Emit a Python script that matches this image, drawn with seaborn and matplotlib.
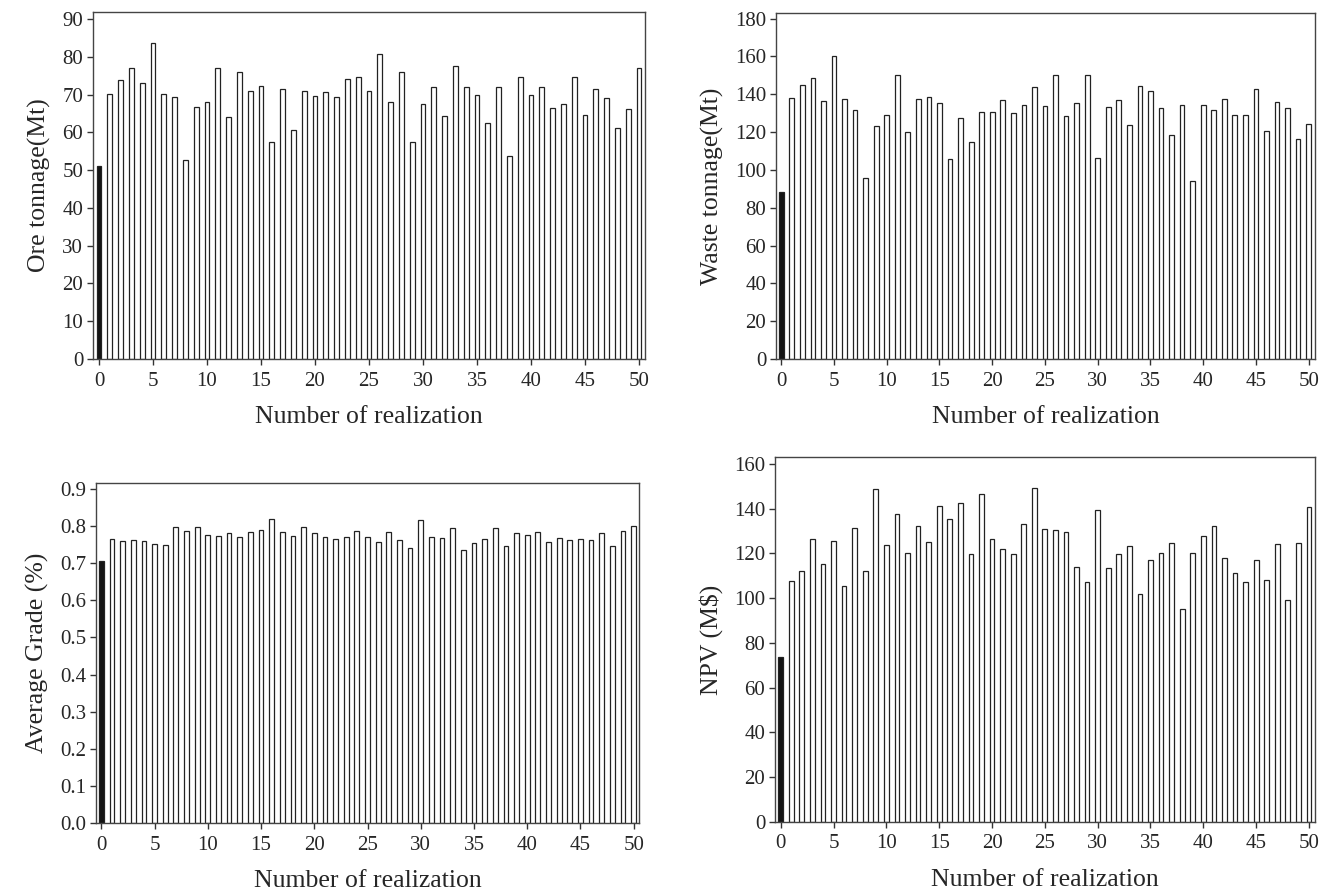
import numpy as np
import pandas as pd
import seaborn as sns
import matplotlib.pyplot as plt

# realization 0 = base (estimated) model, 1..50 = simulated realizations
realization = list(range(51))

ore_tonnage = [51.2, 70.3, 73.9, 77.2, 73.0, 83.8, 70.3, 69.4, 52.6, 66.7,
               68.0, 77.2, 64.0, 76.0, 71.1, 72.4, 57.6, 71.5, 60.7, 71.1,
               69.7, 70.6, 69.4, 74.2, 74.8, 70.9, 80.8, 68.0, 76.0, 57.6,
               67.5, 72.1, 64.3, 77.5, 72.1, 70.0, 62.4, 72.1, 53.8, 74.8,
               70.0, 72.1, 66.4, 67.5, 74.8, 64.6, 71.5, 69.1, 61.3, 66.1,
               77.2]

waste_tonnage = [88.4, 138.2, 144.7, 148.4, 136.4, 160.2, 137.5, 131.6, 95.5, 123.2,
                 129.2, 150.2, 120.0, 137.5, 138.7, 135.2, 105.7, 127.4, 114.7, 130.9,
                 130.9, 136.9, 130.2, 134.5, 143.6, 133.9, 150.2, 128.5, 135.2, 150.2,
                 106.4, 133.4, 136.9, 123.7, 144.2, 141.7, 132.7, 118.4, 134.5, 94.4,
                 134.5, 131.6, 137.5, 129.2, 129.2, 142.9, 120.7, 135.7, 132.7, 116.6,
                 124.4]

avg_grade = [0.706, 0.765, 0.759, 0.762, 0.759, 0.753, 0.750, 0.797, 0.786, 0.797,
             0.777, 0.774, 0.780, 0.771, 0.783, 0.789, 0.818, 0.783, 0.774, 0.797,
             0.780, 0.771, 0.765, 0.771, 0.786, 0.771, 0.756, 0.783, 0.762, 0.741,
             0.816, 0.771, 0.768, 0.795, 0.736, 0.754, 0.765, 0.795, 0.747, 0.780,
             0.777, 0.783, 0.756, 0.768, 0.762, 0.765, 0.762, 0.780, 0.747, 0.786,
             0.801]

npv = [73.7, 107.7, 111.9, 126.6, 115.0, 125.7, 105.3, 131.2, 112.3, 148.7,
       123.6, 137.4, 120.1, 132.3, 125.1, 140.9, 135.3, 142.6, 119.6, 146.6,
       126.2, 121.7, 119.6, 133.3, 149.1, 130.8, 130.4, 129.3, 114.0, 107.4,
       139.4, 113.5, 119.6, 123.1, 101.8, 117.1, 120.1, 124.7, 95.0, 120.1,
       127.7, 132.3, 118.1, 111.4, 107.4, 117.1, 107.9, 124.2, 99.2, 124.7,
       140.5]

kind = ["base"] + ["sim"] * 50

sns.set_theme(style="ticks")
plt.rcParams['font.family'] = ['Liberation Serif', 'DejaVu Serif']

fig = plt.figure(figsize=(13.33, 8.91), dpi=100)

W, H = 1333, 891
def box(l, t, r, b):
    return [l / W, 1 - b / H, (r - l) / W, (b - t) / H]

panels = [
    (box(93, 12, 645, 359), ore_tonnage, "Ore tonnage(Mt)", (0, 91.9), np.arange(0, 91, 10), (-0.55, 50.55), "{:.0f}"),
    (box(776, 13, 1315, 359), waste_tonnage, "Waste tonnage(Mt)", (0, 183), np.arange(0, 181, 20), (-0.5, 50.6), "{:.0f}"),
    (box(96, 483, 639, 823), avg_grade, "Average Grade (%)", (0, 0.916), np.arange(0, 0.91, 0.1), (-0.5, 50.5), "{:.1f}"),
    (box(775, 457, 1315, 822), npv, "NPV (M$)", (0, 163), np.arange(0, 161, 20), (-0.54, 50.57), "{:.0f}"),
]

for rect, vals, ylab, ylim, yticks, xlim, fmt in panels:
    ax = fig.add_axes(rect)
    df = pd.DataFrame({"realization": realization, "value": vals, "kind": kind})
    sns.barplot(data=df, x="realization", y="value", hue="kind",
                palette={"base": "#141414", "sim": "white"},
                native_scale=True, dodge=False, width=0.45,
                edgecolor="#222222", linewidth=0.9, legend=False, ax=ax)
    ax.set_xlim(*xlim)
    ax.set_ylim(*ylim)
    ax.set_xticks(range(0, 51, 5))
    ax.set_xticklabels([str(v) for v in range(0, 51, 5)])
    ax.set_yticks(yticks)
    ax.set_yticklabels([fmt.format(v) for v in yticks])
    ax.tick_params(axis="both", labelsize=15, length=4, width=1, color="#333333")
    ax.tick_params(axis="x", pad=5)
    ax.tick_params(axis="y", pad=3)
    ax.set_xlabel("Number of realization", fontsize=18.5, labelpad=11)
    ax.set_ylabel(ylab, fontsize=18.5, labelpad=8)
    for s in ax.spines.values():
        s.set_visible(True)
        s.set_color("#444444")
        s.set_linewidth(1.0)

fig.savefig("out.png", dpi=100)
